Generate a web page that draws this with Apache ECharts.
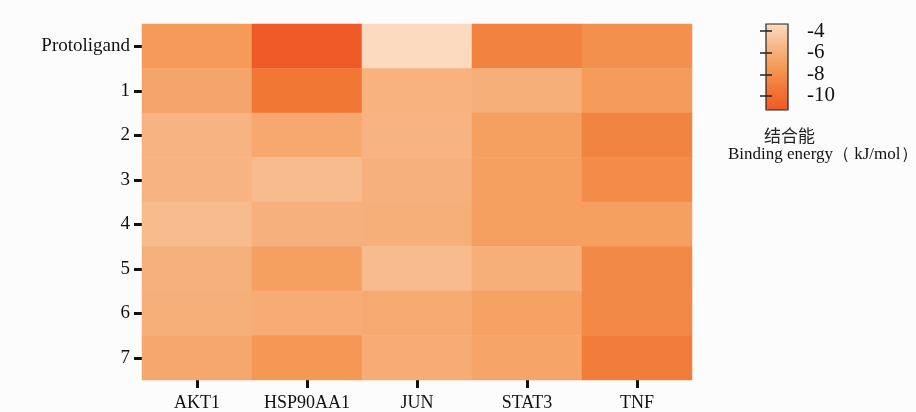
<!DOCTYPE html>
<html>
<head>
<meta charset="utf-8">
<script src="https://cdn.jsdelivr.net/npm/echarts@6/dist/echarts.min.js"></script>
<style>html,body{margin:0;padding:0;background:#fcfcfc;}#c{width:916px;height:412px;}</style>
</head>
<body>
<div id="c"></div>
<script>
const genes = ['AKT1', 'HSP90AA1', 'JUN', 'STAT3', 'TNF'];
const ligands = ['Protoligand', '1', '2', '3', '4', '5', '6', '7'];
const AKT1 = [-7.3, -6.6, -5.7, -5.7, -5.2, -5.9, -6.0, -6.5];
const HSP90AA1 = [-11.3, -9.4, -6.4, -5.2, -5.9, -7.0, -6.2, -7.5];
const JUN = [-3.35, -5.8, -5.7, -5.9, -6.0, -5.2, -6.3, -6.2];
const STAT3 = [-8.7, -6.0, -7.0, -7.0, -7.0, -6.0, -6.8, -6.7];
const TNF = [-7.9, -7.2, -8.6, -8.2, -7.0, -8.3, -8.3, -9.0];
const legendTicks = [-10, -8, -6, -4];
const valueMin = -11.3, valueMax = -3.35;

const cols = [AKT1, HSP90AA1, JUN, STAT3, TNF];
const data = [];
cols.forEach((arr, xi) => arr.forEach((v, yi) => data.push([xi, yi, v])));

const font = 'Liberation Serif';
const chart = echarts.init(document.getElementById('c'));
chart.setOption({
  backgroundColor: '#fcfcfc',
  animation: false,
  grid: [
    { left: 142, right: 224, top: 24, bottom: 32 },
    { left: 766, top: 24, width: 22, height: 86 }
  ],
  xAxis: [
    {
      type: 'category', data: genes, gridIndex: 0,
      axisLine: { show: false }, splitLine: { show: false },
      axisTick: { show: true, alignWithLabel: true, interval: 0, length: 8, lineStyle: { color: '#111', width: 3 } },
      axisLabel: { interval: 0, hideOverlap: false, color: '#111', fontFamily: font, fontSize: 18, margin: 14 }
    },
    { type: 'value', gridIndex: 1, show: false, min: 0, max: 1 }
  ],
  yAxis: [
    {
      type: 'category', data: ligands, gridIndex: 0, inverse: true,
      axisLine: { show: false }, splitLine: { show: false },
      axisTick: { show: true, alignWithLabel: true, interval: 0, length: 8, lineStyle: { color: '#111', width: 3 } },
      axisLabel: { interval: 0, color: '#111', fontFamily: font, fontSize: 19, margin: 12 }
    },
    {
      type: 'value', gridIndex: 1, position: 'right', min: valueMin, max: valueMax, z: 10,
      axisLine: { show: false }, splitLine: { show: false },
      axisTick: { show: true, inside: true, length: 6, customValues: legendTicks, lineStyle: { color: '#222', width: 1.5 } },
      axisLabel: { show: true, customValues: legendTicks, color: '#111', fontFamily: font, fontSize: 21, margin: 19 }
    },
    {
      type: 'value', gridIndex: 1, position: 'left', min: valueMin, max: valueMax, z: 10,
      axisLine: { show: false }, splitLine: { show: false },
      axisTick: { show: true, inside: true, length: 6, customValues: legendTicks, lineStyle: { color: '#222', width: 1.5 } },
      axisLabel: { show: false }
    }
  ],
  visualMap: {
    type: 'continuous', min: valueMin, max: valueMax, seriesIndex: 0,
    left: 766, top: 24, itemWidth: 22, itemHeight: 86, padding: 0,
    calculable: false, text: null, showLabel: false, hoverLink: false,
    inRange: { color: ['#f05a28', '#f17836', '#f59a58', '#f7b98a', '#fcdabf'] }
  },
  graphic: [
    { type: 'rect', z: 100, shape: { x: 766, y: 24, width: 22, height: 86 }, style: { fill: 'none', stroke: '#222', lineWidth: 1.2 } },
    { type: 'text', z: 100, left: 764, top: 127, style: { text: '结合能', font: '17px "Noto Sans CJK SC"', fill: '#222' } },
    { type: 'text', z: 100, left: 728, top: 146, style: { text: 'Binding energy（ kJ/mol）', font: '17px "Liberation Serif"', fill: '#111' } }
  ],
  series: [{
    type: 'heatmap', xAxisIndex: 0, yAxisIndex: 0, data: data,
    itemStyle: { borderWidth: 0 }, emphasis: { disabled: true }
  }]
});
</script>
</body>
</html>
